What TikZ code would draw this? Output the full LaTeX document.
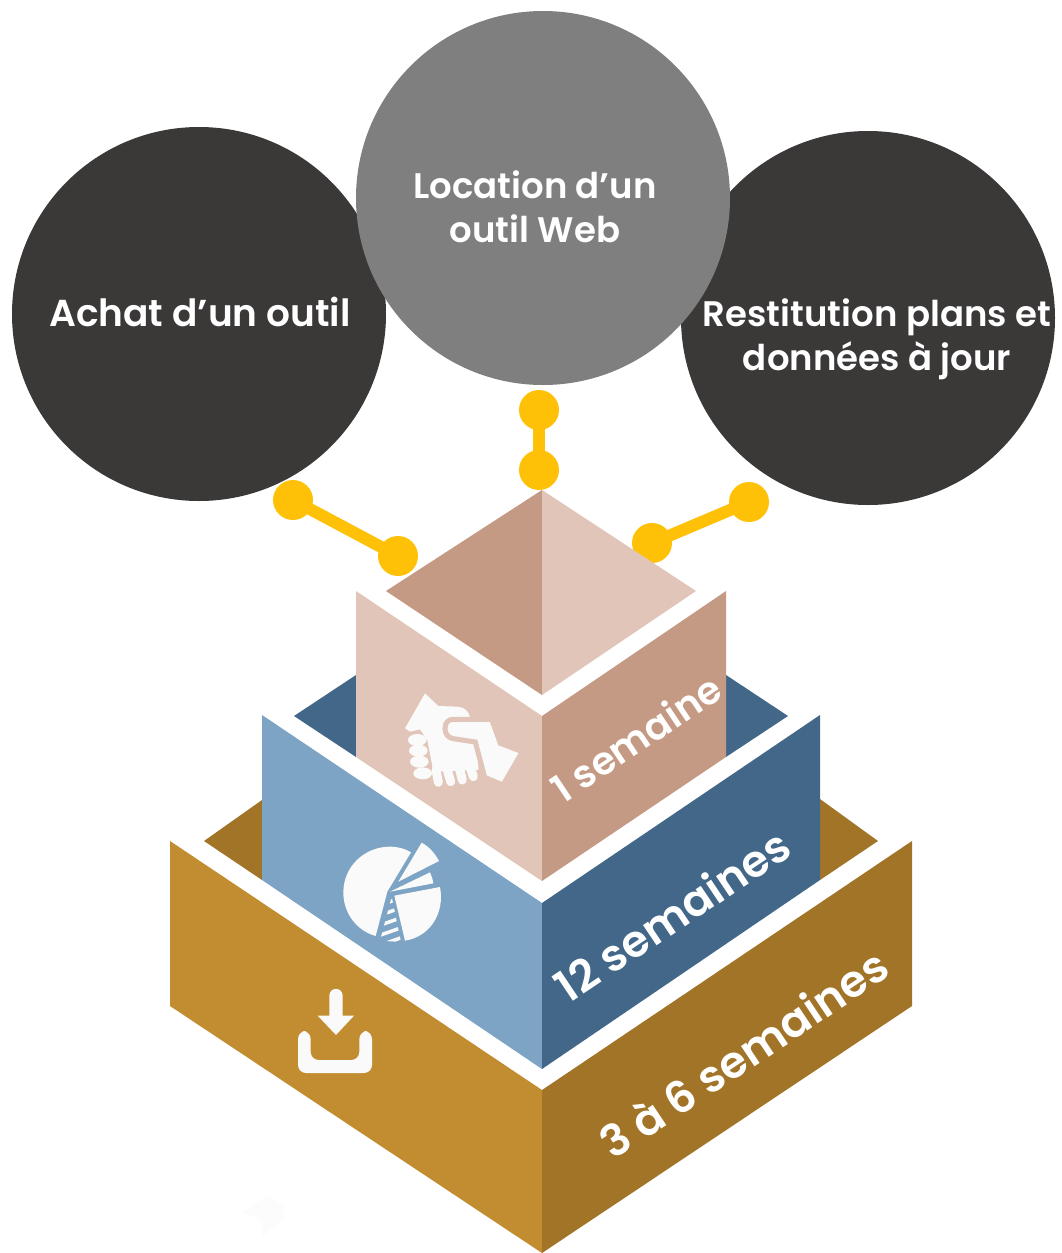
\documentclass[tikz,border=0pt]{standalone}
\usepackage{fontspec}
\setmainfont{Poppins}[BoldFont={Poppins SemiBold}]
\definecolor{darkdisc}{HTML}{3B3838}
\definecolor{greydisc}{HTML}{7F7F7F}
\definecolor{dotyellow}{HTML}{FFC107}
\definecolor{tanlight}{HTML}{E0C5B8}
\definecolor{tandark}{HTML}{C59A85}
\definecolor{bluelight}{HTML}{7DA4C4}
\definecolor{bluedark}{HTML}{426789}
\definecolor{goldlight}{HTML}{C18D30}
\definecolor{golddark}{HTML}{A17428}
\definecolor{iconwhite}{HTML}{FAFAFA}
\begin{document}
\begin{tikzpicture}[x=1pt,y=-1pt,
    disc node/.style={circle,minimum size=374pt,inner sep=0pt},
    disc text/.style={text=white,font=\fontsize{#1}{44}\selectfont\bfseries,align=center},
    dot node/.style={circle,fill=dotyellow,minimum size=40pt,inner sep=0pt},
    link/.style={draw=dotyellow,line width=12pt,shorten <=-3pt,shorten >=-3pt},
    side text/.style={text=white,font=\fontsize{#1}{#1}\selectfont\bfseries,rotate=33.8}]
  \useasboundingbox (0,0) rectangle (1061,1253);
  \node[disc node,fill=darkdisc] (achat) at (199,314) {};
  \node[disc node,fill=darkdisc] (restitution) at (868,318) {};
  \node[disc node,fill=greydisc] (location) at (543,198) {};
  \node[disc text=37.5] (achat text) at (200,312) {Achat d’un outil};
  \node[disc text=35.5] (location text) at (535,207) {Location d’un\\outil Web};
  \node[disc text=35.5] (restitution text) at (877,339) {Restitution plans et\\données à jour};
  \node[dot node] (dot a) at (293,500) {};
  \node[dot node] (dot b) at (398,556) {};
  \node[dot node] (dot c) at (539,410) {};
  \node[dot node] (dot d) at (539,470) {};
  \node[dot node] (dot e) at (749,502) {};
  \node[dot node] (dot f) at (652,543) {};
  \draw[link] (dot a) -- (dot b);
  \draw[link] (dot c) -- (dot d);
  \draw[link] (dot e) -- (dot f);
  \fill[golddark] (204,841) -- (262,800) -- (262,880) -- cycle;
  \fill[golddark] (820,799) -- (878,841) -- (820,880) -- cycle;
  \fill[goldlight] (170,841) -- (542,1090) -- (542,1253) -- (170,1006) -- cycle;
  \fill[golddark] (542,1090) -- (912,841) -- (912,1006) -- (542,1253) -- cycle;
  \fill[bluedark] (294,716) -- (356,675) -- (356,757) -- cycle;
  \fill[bluedark] (726,675) -- (788,716) -- (726,757) -- cycle;
  \fill[bluelight] (262,715) -- (542,903) -- (542,1069) -- (262,880) -- cycle;
  \fill[bluedark] (542,903) -- (820,715) -- (820,880) -- (542,1069) -- cycle;
  \fill[tanlight] (356,591) -- (542,716) -- (542,881) -- (356,757) -- cycle;
  \fill[tandark] (542,716) -- (726,591) -- (726,757) -- (542,881) -- cycle;
  \fill[tandark] (386,591) -- (542,490) -- (542,695) -- cycle;
  \fill[tanlight] (542,490) -- (696,591) -- (542,695) -- cycle;
  \node[side text=38.5] (one week) at (636,738) {1 semaine};
  \node[side text=44] (twelve weeks) at (672,915) {12 semaines};
  \node[side text=44] (six weeks) at (743,1053) {3 à 6 semaines};
  \begin{scope}[shift={(330,660)},scale=1/3]
    \fill[iconwhite] (225,205) -- (285,100) -- (325,138) -- (385,140) .. controls (405,142) and (418,158) .. (420,172) -- (445,240) -- (445,330) -- (310,335) -- (292,240) -- (270,208) -- (240,215) -- cycle;
    \foreach \kx/\ky in {262/240,265/272,268/305,278/340}
      \fill[iconwhite] (\kx,\ky) ellipse [x radius=28,y radius=18];
    \foreach \fx/\fy/\gx/\gy in {318/330/325/367,352/330/362/365,388/325/397/360,420/320/430/350}
      \draw[iconwhite,line width=9pt,line cap=round] (\fx,\fy) -- (\gx,\gy);
    \fill[iconwhite,draw=tanlight,line width=5pt] (345,205) .. controls (345,185) and (358,178) .. (370,178) -- (485,178) -- (511,250) -- (577,275) -- (519,375) -- (464,352) -- (436,246) -- (370,236) .. controls (355,234) and (345,222) .. (345,205) -- cycle;
    \fill[iconwhite] (243,577) .. controls (225,566) and (205,560) .. (180,560) .. controls (103,560) and (40,620) .. (40,697) .. controls (40,760) and (80,812) .. (137,828) -- (172,695) -- cycle;
    \fill[iconwhite] (193,707) -- (330,681) .. controls (345,760) and (300,830) .. (225,842) -- cycle;
    \fill[iconwhite] (205,665) -- (275,548) .. controls (297,560) and (315,580) .. (327,603) -- cycle;
    \fill[iconwhite] (180,695) -- (300,637) .. controls (305,647) and (308,658) .. (310,670) -- cycle;
    \begin{scope}
      \clip (185,710) -- (213,846) -- (150,842) -- cycle;
      \foreach \hy in {725,755,785,815,845}
        \draw[iconwhite,line width=3.5pt] (140,\hy+14) -- (220,\hy-14);
    \end{scope}
  \end{scope}
  \begin{scope}[shift={(200,960)},scale=1/3]
    \fill[iconwhite,rounded corners=8pt] (294,213) -- (332,213) -- (332,300) -- (478,300) -- (478,213) -- (516,213) -- (516,339) -- (294,339) -- cycle;
    \fill[iconwhite] (388,167) -- (388,107) .. controls (388,80) and (428,80) .. (428,107) -- (428,167) -- (462,167) -- (408,225) -- (353,167) -- cycle;
    \fill[iconwhite!60!white] (130,758) -- (200,706) -- (248,735) -- (255,772) -- (187,830) -- (182,775) -- cycle;
  \end{scope}
\end{tikzpicture}
\end{document}
